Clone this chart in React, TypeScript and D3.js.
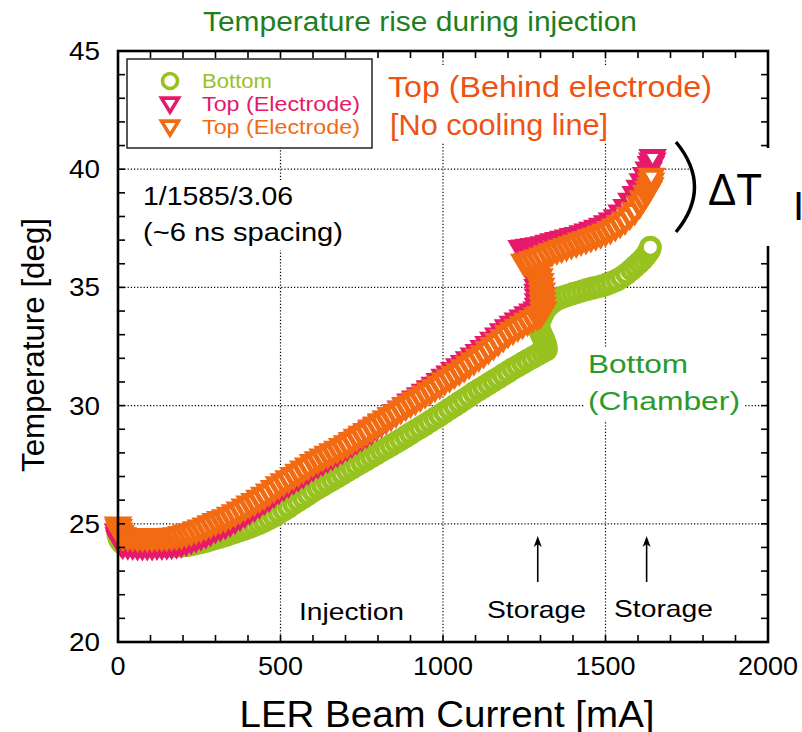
import React from "react";
import * as d3 from "d3";

// Beam current [mA] vs temperature [deg] for the three thermocouples
const bottomChamber: [number, number][] = [
  [0, 24.55], [3, 24.4], [6, 24.3], [12, 24.2],
  [15, 24.16], [30, 24.13], [45, 24.12], [60, 24.1], [75, 24.09], [90, 24.08], [105, 24.07], [120, 24.06],
  [135, 24.06], [150, 24.06], [165, 24.06], [180, 24.06], [195, 24.06], [210, 24.08], [225, 24.11], [240, 24.16],
  [255, 24.2], [270, 24.26], [285, 24.32], [300, 24.38], [315, 24.44], [330, 24.5], [345, 24.57], [360, 24.64],
  [375, 24.71], [390, 24.78], [405, 24.85], [420, 24.93], [435, 25.02], [450, 25.11], [465, 25.22], [480, 25.33],
  [495, 25.46], [510, 25.58], [525, 25.71], [540, 25.85], [555, 25.98], [570, 26.11], [585, 26.24], [600, 26.38],
  [615, 26.51], [630, 26.63], [645, 26.75], [660, 26.87], [675, 26.99], [690, 27.11], [705, 27.24], [720, 27.36],
  [735, 27.48], [750, 27.6], [765, 27.72], [780, 27.84], [795, 27.96], [810, 28.08], [825, 28.2], [840, 28.32],
  [855, 28.44], [870, 28.56], [885, 28.69], [900, 28.82], [915, 28.95], [930, 29.07], [945, 29.2], [960, 29.33],
  [975, 29.46], [990, 29.59], [1005, 29.72], [1020, 29.86], [1035, 29.99], [1050, 30.13], [1065, 30.26], [1080, 30.4],
  [1095, 30.54], [1110, 30.67], [1125, 30.79], [1140, 30.92], [1155, 31.05], [1170, 31.17], [1185, 31.3], [1200, 31.43],
  [1215, 31.56], [1230, 31.68], [1245, 31.8], [1260, 31.92], [1275, 32.03], [1290, 32.15], [1305, 32.26], [1318, 32.36],
  [1317, 32.5], [1314, 32.65], [1310, 32.8], [1305, 32.95], [1300, 33.1], [1296, 33.25], [1294, 33.4],
  [1297, 33.55], [1301, 33.7], [1306, 33.85], [1312, 34.0], [1319, 34.14], [1328, 34.27], [1340, 34.4], [1355, 34.51],
  [1370, 34.6], [1385, 34.67], [1400, 34.74], [1415, 34.8], [1430, 34.86], [1445, 34.92], [1460, 34.97], [1475, 35.02],
  [1490, 35.07], [1505, 35.14], [1520, 35.22], [1535, 35.31], [1550, 35.43], [1565, 35.58], [1580, 35.75], [1592, 35.9],
  [1604, 36.05], [1615, 36.2], [1625, 36.37], [1632, 36.5], [1636, 36.6], [1638, 36.7],
];

const topElectrodePink: [number, number][] = [
  [0, 24.6], [2, 24.45], [4, 24.32], [8, 24.2], [14, 24.1],
  [15, 24.09], [30, 24.06], [45, 24.05], [60, 24.03], [75, 24.03], [90, 24.03], [105, 24.03], [120, 24.05],
  [135, 24.05], [150, 24.06], [165, 24.08], [180, 24.1], [195, 24.15], [210, 24.21], [225, 24.28], [240, 24.36],
  [255, 24.44], [270, 24.53], [285, 24.63], [300, 24.75], [315, 24.83], [330, 24.92], [345, 25.02], [360, 25.14],
  [375, 25.27], [390, 25.4], [405, 25.54], [420, 25.66], [435, 25.8], [450, 25.94], [465, 26.08], [480, 26.24],
  [495, 26.4], [510, 26.54], [525, 26.68], [540, 26.81], [555, 26.94], [570, 27.08], [585, 27.22], [600, 27.37],
  [615, 27.49], [630, 27.61], [645, 27.73], [660, 27.85], [675, 27.98], [690, 28.1], [705, 28.23], [720, 28.37],
  [735, 28.5], [750, 28.64], [765, 28.78], [780, 28.92], [795, 29.08], [810, 29.22], [825, 29.37], [840, 29.51],
  [855, 29.66], [870, 29.81], [885, 29.95], [900, 30.1], [915, 30.23], [930, 30.37], [945, 30.52], [960, 30.66],
  [975, 30.81], [990, 30.97], [1005, 31.15], [1020, 31.29], [1035, 31.44], [1050, 31.59], [1065, 31.73], [1080, 31.89],
  [1095, 32.05], [1110, 32.2], [1125, 32.37], [1140, 32.54], [1155, 32.72], [1170, 32.9], [1185, 33.08], [1200, 33.25],
  [1215, 33.39], [1230, 33.53], [1245, 33.66], [1260, 33.8], [1275, 33.91], [1288, 34.0],
  [1292, 34.15], [1292, 34.35], [1292, 34.55], [1291, 34.75], [1291, 34.95], [1290, 35.15], [1289, 35.35], [1288, 35.55],
  [1285, 35.75], [1281, 35.95], [1275, 36.15], [1267, 36.3], [1258, 36.43], [1250, 36.52], [1242, 36.6],
  [1252, 36.62], [1265, 36.65], [1280, 36.68], [1295, 36.71], [1310, 36.76], [1325, 36.82], [1340, 36.88], [1355, 36.94],
  [1370, 36.99], [1385, 37.04], [1400, 37.1], [1415, 37.15], [1430, 37.22], [1445, 37.29], [1460, 37.37], [1475, 37.45],
  [1490, 37.54], [1505, 37.64], [1520, 37.76], [1535, 37.9], [1550, 38.1], [1565, 38.33], [1580, 38.6], [1593, 38.88],
  [1605, 39.15], [1615, 39.42], [1625, 39.68], [1633, 39.92], [1640, 40.15], [1644, 40.3], [1645, 40.45],
];

const topElectrodeOrange: [number, number][] = [
  [0, 24.9], [2, 24.8], [4, 24.65], [8, 24.55], [14, 24.45],
  [15, 24.44], [30, 24.41], [45, 24.4], [60, 24.38], [75, 24.38], [90, 24.38], [105, 24.38], [120, 24.4],
  [135, 24.4], [150, 24.41], [165, 24.43], [180, 24.45], [195, 24.5], [210, 24.56], [225, 24.62], [240, 24.7],
  [255, 24.77], [270, 24.86], [285, 24.95], [300, 25.05], [315, 25.13], [330, 25.21], [345, 25.31], [360, 25.42],
  [375, 25.54], [390, 25.66], [405, 25.79], [420, 25.9], [435, 26.03], [450, 26.16], [465, 26.3], [480, 26.45],
  [495, 26.6], [510, 26.73], [525, 26.86], [540, 27.0], [555, 27.13], [570, 27.27], [585, 27.4], [600, 27.55],
  [615, 27.66], [630, 27.78], [645, 27.89], [660, 28.0], [675, 28.11], [690, 28.22], [705, 28.34], [720, 28.48],
  [735, 28.61], [750, 28.74], [765, 28.86], [780, 29.0], [795, 29.13], [810, 29.27], [825, 29.39], [840, 29.52],
  [855, 29.65], [870, 29.79], [885, 29.92], [900, 30.05], [915, 30.18], [930, 30.31], [945, 30.45], [960, 30.58],
  [975, 30.72], [990, 30.85], [1005, 31.0], [1020, 31.13], [1035, 31.27], [1050, 31.41], [1065, 31.55], [1080, 31.7],
  [1095, 31.85], [1110, 32.0], [1125, 32.15], [1140, 32.32], [1155, 32.49], [1170, 32.66], [1185, 32.83], [1200, 33.0],
  [1215, 33.14], [1230, 33.27], [1245, 33.39], [1260, 33.52], [1275, 33.64], [1290, 33.75], [1300, 33.82],
  [1308, 34.0], [1307, 34.2], [1306, 34.4], [1305, 34.6], [1304, 34.8], [1302, 35.0], [1300, 35.2], [1297, 35.4],
  [1293, 35.6], [1287, 35.75], [1278, 35.87], [1268, 35.95], [1258, 36.0], [1250, 36.02],
  [1260, 36.06], [1275, 36.13], [1290, 36.2], [1305, 36.28], [1320, 36.38], [1335, 36.46], [1350, 36.53], [1365, 36.61],
  [1380, 36.68], [1395, 36.76], [1410, 36.83], [1425, 36.91], [1440, 36.98], [1455, 37.06], [1470, 37.13], [1485, 37.21],
  [1500, 37.3], [1515, 37.4], [1530, 37.52], [1545, 37.65], [1560, 37.8], [1575, 38.0], [1590, 38.2], [1605, 38.48],
  [1615, 38.7], [1625, 38.92], [1633, 39.1], [1638, 39.25], [1640, 39.45], [1641, 39.65],
];

const xTicks = [0, 500, 1000, 1500, 2000];
const yTicks = [20, 25, 30, 35, 40, 45];
const legendLabels = ["Bottom", "Top (Electrode)", "Top (Electrode)"];

const GREEN = "#98c21f";
const PINK = "#e6196a";
const ORANGE = "#f26b12";
const FONT = "'Liberation Sans', Arial, Helvetica, sans-serif";

const W = 802;
const H = 732;
const x = d3.scaleLinear().domain([0, 2000]).range([118, 768]);
const y = d3.scaleLinear().domain([20, 45]).range([642, 51]);

const triDown = (w: number, h: number) => `M${-w / 2},${-h * 0.42}L${w / 2},${-h * 0.42}L0,${h * 0.58}Z`;

function Tri({ cx, cy, color, w = 20, h = 17, sw = 5 }: { cx: number; cy: number; color: string; w?: number; h?: number; sw?: number }) {
  return (
    <path d={triDown(w, h)} transform={`translate(${cx},${cy})`} fill="#fff" stroke={color} strokeWidth={sw} />
  );
}

function Circ({ cx, cy, color, r = 9, sw = 5 }: { cx: number; cy: number; color: string; r?: number; sw?: number }) {
  return <circle cx={cx} cy={cy} r={r} fill="#fff" stroke={color} strokeWidth={sw} />;
}

// text fitted to a given advance width
function Txt({
  x: tx, y: ty, w, size, fill = "#000", anchor = "start", children,
}: { x: number; y: number; w: number; size: number; fill?: string; anchor?: string; children: React.ReactNode }) {
  return (
    <text x={tx} y={ty} fontSize={size} fill={fill} textAnchor={anchor as any} textLength={w} lengthAdjust="spacingAndGlyphs">
      {children}
    </text>
  );
}

export default function App() {
  const xMinor = d3.range(0, 2001, 100);
  const yMinor = d3.range(20, 46, 1);
  const [x0, x1] = x.range();
  const [y0, y1] = y.range();
  const tick = 7;

  return (
    <svg
      width={W}
      height={H}
      viewBox={`0 0 ${W} ${H}`}
      style={{ position: "absolute", left: 0, top: 0, background: "#fff" }}
      fontFamily={FONT}
    >
      <rect x={0} y={0} width={W} height={H} fill="#fff" />

      {/* title */}
      <Txt x={203} y={31} w={434} size={27} fill="#1f7f1f">Temperature rise during injection</Txt>

      {/* dotted grid */}
      <g stroke="#000" strokeWidth={1.2} strokeDasharray="1.2,2">
        {xTicks.slice(1, -1).map((v) => (
          <line key={"gx" + v} x1={x(v)} x2={x(v)} y1={y1} y2={y0} />
        ))}
        {yTicks.slice(1, -1).map((v) => (
          <line key={"gy" + v} x1={x0} x2={x1} y1={y(v)} y2={y(v)} />
        ))}
      </g>

      {/* data */}
      <g>
        {bottomChamber.map(([c, t], i) => (
          <Circ key={"g" + i} cx={x(c)} cy={y(t)} color={GREEN} />
        ))}
      </g>
      <g>
        {topElectrodePink.map(([c, t], i) => (
          <Tri key={"p" + i} cx={x(c)} cy={y(t)} color={PINK} />
        ))}
      </g>
      <g>
        {topElectrodeOrange.map(([c, t], i) => (
          <Tri key={"o" + i} cx={x(c)} cy={y(t)} color={ORANGE} />
        ))}
      </g>

      {/* frame with inward ticks */}
      <g stroke="#000" strokeWidth={1.6}>
        {xMinor.map((v) => (
          <g key={"tx" + v}>
            <line x1={x(v)} x2={x(v)} y1={y0} y2={y0 - tick} />
            <line x1={x(v)} x2={x(v)} y1={y1} y2={y1 + tick} />
          </g>
        ))}
        {yMinor.map((v) => (
          <g key={"ty" + v}>
            <line x1={x0} x2={x0 + tick} y1={y(v)} y2={y(v)} />
            <line x1={x1} x2={x1 - tick} y1={y(v)} y2={y(v)} />
          </g>
        ))}
      </g>
      <rect x={x0} y={y1} width={x1 - x0} height={y0 - y1} fill="none" stroke="#000" strokeWidth={2.6} />

      {/* tick labels */}
      {xTicks.map((v) => (
        <Txt key={"lx" + v} x={x(v)} y={675} w={15 * String(v).length} size={25} anchor="middle">
          {v}
        </Txt>
      ))}
      {yTicks.map((v) => (
        <Txt key={"ly" + v} x={100} y={y(v) + 9} w={31} size={25} anchor="end">
          {v}
        </Txt>
      ))}

      {/* axis titles */}
      <Txt x={447} y={727} w={415} size={37} anchor="middle">LER Beam Current [mA]</Txt>
      <g transform="translate(44,345) rotate(-90)">
        <Txt x={0} y={0} w={254} size={32} anchor="middle">Temperature [deg]</Txt>
      </g>

      {/* legend */}
      <rect x={127} y={59} width={245} height={89} fill="#fff" stroke="#222" strokeWidth={1.5} />
      <Circ cx={170} cy={81} color={GREEN} r={7.5} sw={3.6} />
      <Tri cx={170} cy={104} color={PINK} w={17} h={14} sw={3.6} />
      <Tri cx={170} cy={127} color={ORANGE} w={17} h={14} sw={3.6} />
      <Txt x={202} y={88} w={70} size={20} fill={GREEN}>{legendLabels[0]}</Txt>
      <Txt x={202} y={111} w={158} size={20} fill={PINK}>{legendLabels[1]}</Txt>
      <Txt x={202} y={134} w={158} size={20} fill={ORANGE}>{legendLabels[2]}</Txt>

      {/* annotations */}
      <rect x={384} y={67} width={332} height={76} fill="#fff" />
      <Txt x={388} y={97} w={324} size={29} fill="#ee5312">Top (Behind electrode)</Txt>
      <Txt x={390} y={135} w={218} size={29} fill="#ee5312">[No cooling line]</Txt>

      <rect x={138} y={180} width={208} height={70} fill="#fff" />
      <Txt x={143} y={205} w={150} size={25}>1/1585/3.06</Txt>
      <Txt x={143} y={241} w={200} size={25}>(~6 ns spacing)</Txt>

      <rect x={584} y={348} width={160} height={72} fill="#fff" />
      <Txt x={588} y={373} w={100} size={25} fill="#2b9a2b">Bottom</Txt>
      <Txt x={588} y={410} w={152} size={25} fill="#2b9a2b">(Chamber)</Txt>

      <rect x={294} y={596} width={116} height={32} fill="#fff" />
      <Txt x={299} y={620} w={105} size={24}>Injection</Txt>
      <rect x={483} y={595} width={108} height={32} fill="#fff" />
      <Txt x={487} y={618} w={99} size={24}>Storage</Txt>
      <rect x={610} y={594} width={108} height={32} fill="#fff" />
      <Txt x={614} y={617} w={99} size={24}>Storage</Txt>

      {/* storage arrows */}
      {[1290, 1625].map((c) => {
        const ax = x(c) + 0.5;
        return (
          <g key={"ar" + c}>
            <line x1={ax} x2={ax} y1={582} y2={542} stroke="#000" strokeWidth={1.6} />
            <path d={`M${ax},${536}L${ax - 4},${547}L${ax},${544}L${ax + 4},${547}Z`} fill="#000" />
          </g>
        );
      })}

      {/* delta T bracket */}
      <rect x={692} y={148} width={110} height={98} fill="#fff" />
      <path d="M676,142 Q713,187 676,232" fill="none" stroke="#000" strokeWidth={3.4} />
      <Txt x={708} y={205} w={54} size={44}>ΔT</Txt>
      <text x={793} y={220} fontSize={40} fill="#000">
        I
      </text>
    </svg>
  );
}
